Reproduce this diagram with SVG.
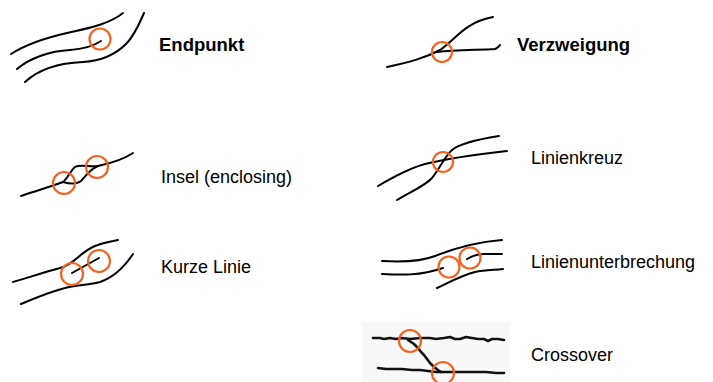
<svg xmlns="http://www.w3.org/2000/svg" width="713" height="382" viewBox="0 0 713 382">
  <style>
    .ln { fill: none; stroke: #000; stroke-width: 2; stroke-linecap: round; stroke-linejoin: round; }
    .rough { fill: none; stroke: #111; stroke-width: 2.6; stroke-linecap: round; stroke-linejoin: round; }
    .mark { fill: none; stroke: #f4621f; stroke-width: 2.2; }
    .lbl { font-family: "Liberation Sans", Arial, sans-serif; font-size: 18px; fill: #000; }
    .lbl.b { font-weight: bold; font-size: 18.5px; }
  </style>
  <rect width="713" height="382" fill="#fff"/>

  <g id="endpunkt">
    <g class="connectors">
      <path class="ln" d="M11,54 C25,45 45,38 67,33 C85,29 108,25 123,13"/>
      <path class="ln" d="M17,69 C30,58 50,51 70,50 C85,49 95,45 101,41"/>
      <path class="ln" d="M25,82 C38,70 58,63 83,62 C100,61 115,55 126,44 C135,35 140,22 144,13"/>
    </g>
    <circle class="mark" cx="100" cy="39" r="10.5"/>
    <text class="lbl b" x="159" y="51">Endpunkt</text>
  </g>

  <g id="verzweigung">
    <g class="connectors">
      <path class="ln" d="M387,67 C410,62 425,58 440,50 C455,40 465,22 493,17"/>
      <path class="ln" d="M437,52 C455,50 480,50 495,49 C498,48 499,46 500,45"/>
    </g>
    <circle class="mark" cx="442" cy="52" r="10"/>
    <text class="lbl b" x="517" y="51">Verzweigung</text>
  </g>

  <g id="insel">
    <g class="connectors">
      <path class="ln" d="M21,196 C35,191 50,187 63,182 C68,178 71,170 75,167 C80,164 90,167 98,166 C112,163 124,159 133,153"/>
      <path class="ln" d="M63,182 C70,184 76,185 81,181 C86,176 90,169 98,166"/>
    </g>
    <circle class="mark" cx="64" cy="183" r="11"/>
    <circle class="mark" cx="97" cy="167" r="11"/>
    <text class="lbl" x="161" y="183">Insel (enclosing)</text>
  </g>

  <g id="linienkreuz">
    <g class="connectors">
      <path class="ln" d="M378,186 C395,176 410,168 425,164 C450,158 480,154 507,151"/>
      <path class="ln" d="M397,200 C410,192 425,186 432,178 C440,168 445,156 452,150 C460,143 480,139 499,136"/>
    </g>
    <circle class="mark" cx="443" cy="162" r="10"/>
    <text class="lbl" x="531" y="164">Linienkreuz</text>
  </g>

  <g id="kurze-linie">
    <g class="connectors">
      <path class="ln" d="M13,282 C30,277 45,272 60,268 C75,264 80,252 95,246 C105,242 112,241 118,240"/>
      <path class="ln" d="M21,304 C35,298 50,292 65,288 C75,285 90,285 100,282 C115,277 125,266 133,254"/>
      <path class="ln" d="M72,273 L99,258"/>
    </g>
    <circle class="mark" cx="72" cy="274" r="11"/>
    <circle class="mark" cx="99" cy="261" r="11"/>
    <text class="lbl" x="161" y="273">Kurze Linie</text>
  </g>

  <g id="linienunterbrechung">
    <g class="connectors">
      <path class="ln" d="M382,261 C400,262 420,262 435,256 C455,248 475,242 502,240"/>
      <path class="ln" d="M382,274 C400,275 420,276 443,268"/>
      <path class="ln" d="M467,259 C472,256 476,254 484,254 L502,254"/>
      <path class="ln" d="M437,288 C450,282 460,276 475,272 C485,270 495,270 503,269"/>
    </g>
    <circle class="mark" cx="449" cy="267" r="10.5"/>
    <circle class="mark" cx="470" cy="258" r="10.5"/>
    <text class="lbl" x="531" y="268">Linienunterbrechung</text>
  </g>

  <g id="crossover">
    <rect x="362" y="322" width="148" height="60" fill="#f8f8f8"/>
    <g class="connectors">
      <polyline class="rough" points="373,338 380,338 384,339 390,338 396,339 402,338 410,339 420,338 430,338 436,339 444,338 450,337 455,339 460,339 466,337 472,338 478,339 484,339 488,341 492,339 498,339 504,340"/>
      <polyline class="rough" points="378,368 386,369 394,369 402,369 412,370 420,370 428,371 436,372 446,372 456,372 466,372 476,372 486,372 496,373 504,373"/>
      <polyline class="rough" points="408,340 414,344 418,348 421,352 424,355 427,359 430,363 434,367 438,370 441,372"/>
    </g>
    <circle class="mark" cx="410" cy="341" r="11"/>
    <circle class="mark" cx="443" cy="373" r="11"/>
    <text class="lbl" x="531" y="361">Crossover</text>
  </g>
</svg>
